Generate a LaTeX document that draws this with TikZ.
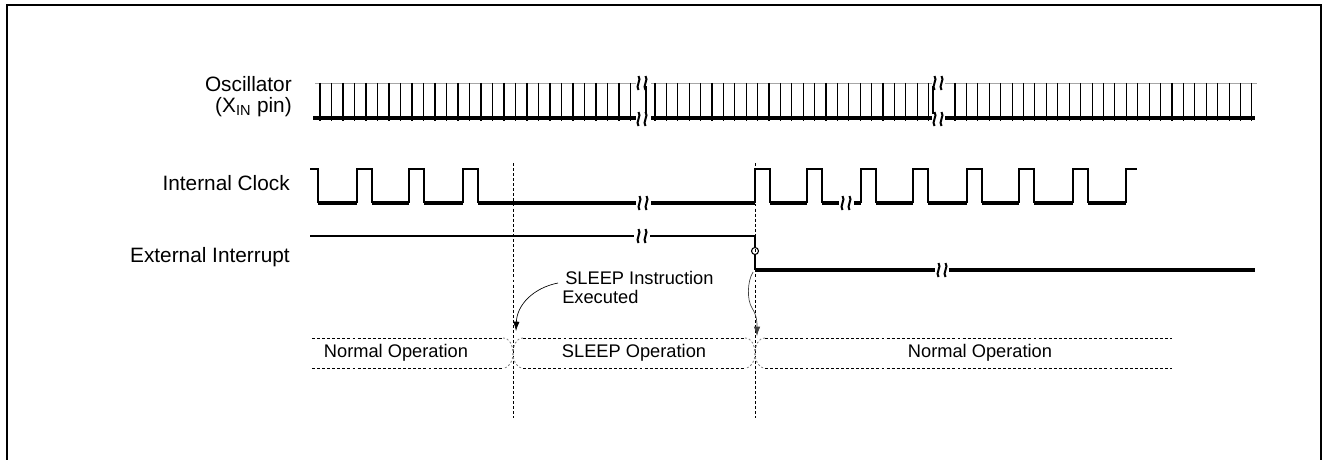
\documentclass[tikz,border=0pt]{standalone}
\usepackage{fontspec}
\setmainfont{Liberation Sans}
\usetikzlibrary{arrows.meta}
\newcommand\squig[2]{%
  \draw[line width=1.5pt] ({#1-3.5},{#2-7}) .. controls ({#1},{#2-3.5}) and ({#1-7},{#2+3.5}) .. ({#1-3.5},{#2+7});
  \draw[line width=1.5pt] ({#1+3.5},{#2-7}) .. controls ({#1+7},{#2-3.5}) and ({#1},{#2+3.5}) .. ({#1+3.5},{#2+7});
}
\begin{document}
\begin{tikzpicture}[x=0.75pt,y=-0.75pt,
  lbl/.style={font=\fontsize{15.6}{18}\selectfont, anchor=east, inner sep=0pt},
  ann/.style={font=\fontsize{13.7}{16}\selectfont, inner sep=0pt},
  sigthin/.style={line width=0.8pt},
  sigthick/.style={line width=2.4pt},
  vdash/.style={line width=0.6pt, dash pattern=on 2.2pt off 1.6pt},
  band/.style={line width=0.6pt, dash pattern=on 2.2pt off 1.6pt},
  bandend/.style={line width=0.6pt, dash pattern=on 1.5pt off 1.5pt, gray},
  arr/.style={line width=0.5pt, -{Latex[length=7pt,width=4.8pt]}}
]
\useasboundingbox (0,0) rectangle (1323,460);
\draw[line width=1.6pt] (7,460) -- (7,5) -- (1321,5) -- (1321,460);

% labels
\node[lbl] (osc) at (292,84) {Oscillator};
\node[lbl] (xin) at (292,107) {(X\textsubscript{IN} pin)};
\node[lbl] (iclk) at (290,183) {Internal Clock};
\node[lbl] (eint) at (290,257) {External Interrupt};

% oscillator
\draw[gray!70, line width=0.6pt] (315,83) -- (636,83) (651,83) -- (932,83) (945,83) -- (1257,83);
\foreach \i in {0,...,27} \draw[sigthin] ({320+11.5*\i},83) -- ({320+11.5*\i},121);
\foreach \i in {0,...,24} \draw[sigthin] ({655+11.4*\i},83) -- ({655+11.4*\i},121);
\foreach \i in {0,...,26} \draw[sigthin] ({955+11.42*\i},83) -- ({955+11.42*\i},121);
\draw[sigthin] (646,86) -- (646,114) (933,86) -- (933,114);
\draw[line width=2.6pt] (313,118) -- (636,118) (651,118) -- (932,118) (945,118) -- (1255,118);
\squig{642}{83}\squig{642}{119}
\squig{938}{83}\squig{938}{119}

% internal clock
\draw[sigthin] (310,169) -- (318,169) -- (318,203);
\foreach \r in {357,409,463,755,807,861,913,967,1019,1073}
  \draw[sigthin] (\r,203) -- (\r,169) -- ({\r+15},169) -- ({\r+15},203);
\draw[sigthin] (1126,203) -- (1126,169) -- (1137,169);
\draw[sigthick] (318,203) -- (357,203) (372,203) -- (409,203) (424,203) -- (463,203)
  (478,203) -- (636,203) (651,203) -- (755,203) (770,203) -- (807,203) (822,203) -- (839,203)
  (854,203) -- (861,203) (876,203) -- (913,203) (928,203) -- (967,203) (982,203) -- (1019,203)
  (1034,203) -- (1073,203) (1088,203) -- (1126,203);
\squig{643}{203}\squig{846}{203}

% external interrupt
\draw[sigthin] (310,236) -- (634,236) (650,236) -- (755,236) -- (755,247.5);
\draw[sigthin] (755,251) circle (3.5);
\draw[sigthin] (755,254.5) -- (755,270);
\draw[sigthick] (755,270) -- (935,270) (949,270) -- (1255,270);
\squig{642}{236}\squig{942}{270}

% vertical dashed markers
\draw[vdash] (513,163) -- (513,418);
\draw[vdash] (755,163) -- (755,418);

% annotation
\node[ann, anchor=west] (sl1) at (565,278) {SLEEP Instruction};
\node[ann, anchor=west] (sl2) at (562,297) {Executed};
\coordinate (a1) at (558,283);
\coordinate (t1) at (516,331);
\draw[arr] (a1) .. controls (533,288) and (517,305) .. (t1);
\coordinate (a2) at (753,272);
\coordinate (t2) at (757,336);
\draw[arr, gray!50!black] (a2) .. controls (747,282) and (747,300) .. (752,308) .. controls (757,316) and (757,322) .. (t2);

% operation bands
\draw[band] (312,338) -- (503,338) (312,368) -- (503,368);
\draw[bandend] (503,338) .. controls (510,338) and (513,346) .. (513,353) .. controls (513,360) and (510,368) .. (503,368);
\draw[bandend] (523,338) .. controls (516,338) and (513,346) .. (513,353) .. controls (513,360) and (516,368) .. (523,368);
\draw[band] (523,338) -- (745,338) (523,368) -- (745,368);
\draw[bandend] (745,338) .. controls (752,338) and (755,346) .. (755,353) .. controls (755,360) and (752,368) .. (745,368);
\draw[bandend] (765,338) .. controls (758,338) and (755,346) .. (755,353) .. controls (755,360) and (758,368) .. (765,368);
\draw[band] (765,338) -- (1172,338) (765,368) -- (1172,368);
\node[ann] (op1) at (396,353) {Normal Operation};
\node[ann] (op2) at (634,353) {SLEEP Operation};
\node[ann] (op3) at (980,353) {Normal Operation};
\end{tikzpicture}
\end{document}
